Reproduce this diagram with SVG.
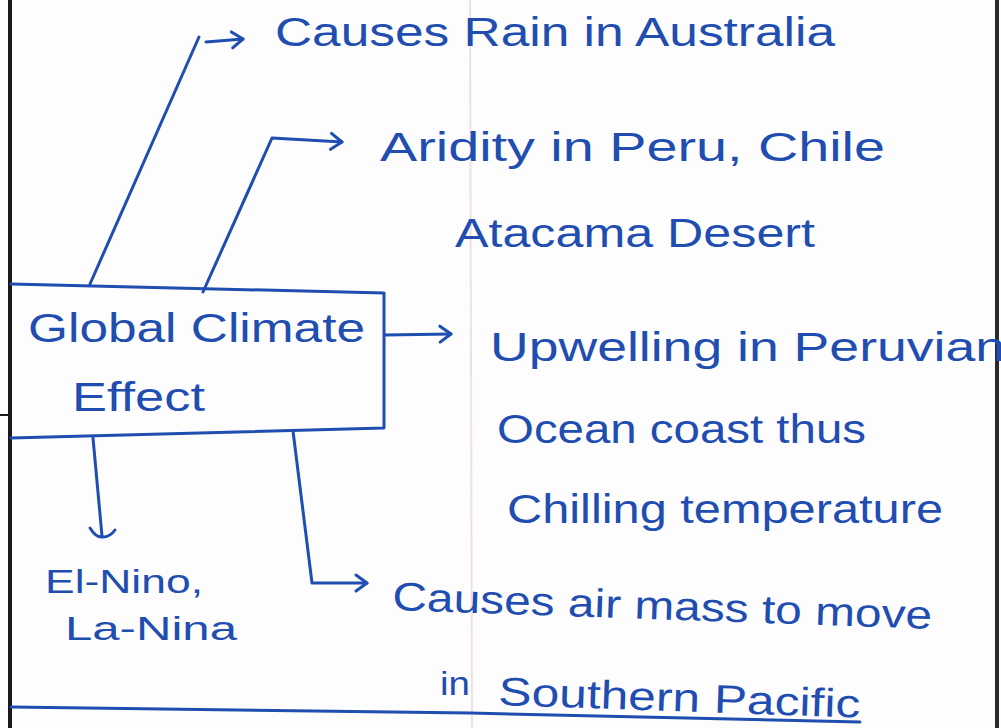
<svg xmlns="http://www.w3.org/2000/svg" width="1001" height="728" viewBox="0 0 1001 728">
  <defs>
    <style>
      .ink { fill: none; stroke: #1f4db0; stroke-width: 3; stroke-linecap: round; stroke-linejoin: round; }
      .note { font-family: "Liberation Sans", "DejaVu Sans", sans-serif; font-size: 40px; fill: #1f4db0; }
      .small { font-size: 33px; }
    </style>
    <marker id="head" markerUnits="userSpaceOnUse" markerWidth="24" markerHeight="24" viewBox="-14 -12 16 24" refX="0" refY="0" orient="auto">
      <path d="M -11 -8 L 0 0 L -11 8" fill="none" stroke="#1f4db0" stroke-width="3" stroke-linecap="round" stroke-linejoin="round"/>
    </marker>
  </defs>

  <!-- paper -->
  <rect x="0" y="0" width="1001" height="728" fill="#fdfdfe"/>
  <line x1="470" y1="0" x2="472" y2="728" stroke="#f1dfe6" stroke-width="2"/>
  <!-- page edges -->
  <line x1="10" y1="0" x2="10" y2="728" stroke="#1a1a1a" stroke-width="4"/>
  <line x1="0" y1="415" x2="9" y2="415" stroke="#1a1a1a" stroke-width="2"/>
  <line x1="997" y1="0" x2="997" y2="728" stroke="#2a2a2a" stroke-width="4"/>

  <!-- central box -->
  <g id="global-climate-effect">
    <path class="ink" d="M 11 284 L 384 293 L 384 428 L 11 438"/>
    <text class="note" x="28" y="342" textLength="337" lengthAdjust="spacingAndGlyphs">Global Climate</text>
    <text class="note" x="72" y="411" textLength="133" lengthAdjust="spacingAndGlyphs">Effect</text>
  </g>

  <g id="connectors">
    <!-- up to rain in Australia -->
    <path class="ink" d="M 90 284 L 199 37"/>
    <path class="ink" d="M 206 42 L 243 39" marker-end="url(#head)"/>
    <!-- up to aridity -->
    <path class="ink" d="M 203 292 L 272 138 L 342 142" marker-end="url(#head)"/>
    <!-- right to upwelling -->
    <path class="ink" d="M 385 335 L 451 334" marker-end="url(#head)"/>
    <!-- down to El-Nino -->
    <path class="ink" d="M 93 438 L 102 536"/>
    <path class="ink" d="M 90 528 Q 96 538 103 537 Q 110 537 115 530"/>
    <!-- down and right to air mass -->
    <path class="ink" d="M 293 431 L 312 583 L 367 583" marker-end="url(#head)"/>
  </g>

  <g id="rain-australia">
    <text class="note" x="275" y="46" textLength="560" lengthAdjust="spacingAndGlyphs">Causes Rain in Australia</text>
  </g>

  <g id="aridity">
    <text class="note" x="380" y="161" textLength="505" lengthAdjust="spacingAndGlyphs">Aridity in Peru, Chile</text>
    <text class="note" x="455" y="247" textLength="360" lengthAdjust="spacingAndGlyphs">Atacama Desert</text>
  </g>

  <g id="upwelling">
    <text class="note" x="490" y="361" textLength="515" lengthAdjust="spacingAndGlyphs">Upwelling in Peruvian</text>
    <text class="note" x="497" y="443" textLength="369" lengthAdjust="spacingAndGlyphs">Ocean coast thus</text>
    <text class="note" x="507" y="523" textLength="436" lengthAdjust="spacingAndGlyphs">Chilling temperature</text>
  </g>

  <g id="el-nino">
    <text class="note small" x="45" y="593" textLength="158" lengthAdjust="spacingAndGlyphs">El-Nino,</text>
    <text class="note small" x="65" y="640" textLength="172" lengthAdjust="spacingAndGlyphs">La-Nina</text>
  </g>

  <g id="air-mass">
    <text class="note" x="392" y="610" textLength="540" lengthAdjust="spacingAndGlyphs" transform="rotate(2 392 610)">Causes air mass to move</text>
    <text class="note small" x="440" y="695" textLength="30" lengthAdjust="spacingAndGlyphs">in</text>
    <text class="note" x="498" y="705" textLength="362" lengthAdjust="spacingAndGlyphs" transform="rotate(2 498 705)">Southern Pacific</text>
  </g>

  <!-- rule under the last line -->
  <path class="ink" d="M 11 707 L 470 713 L 860 722"/>
</svg>
